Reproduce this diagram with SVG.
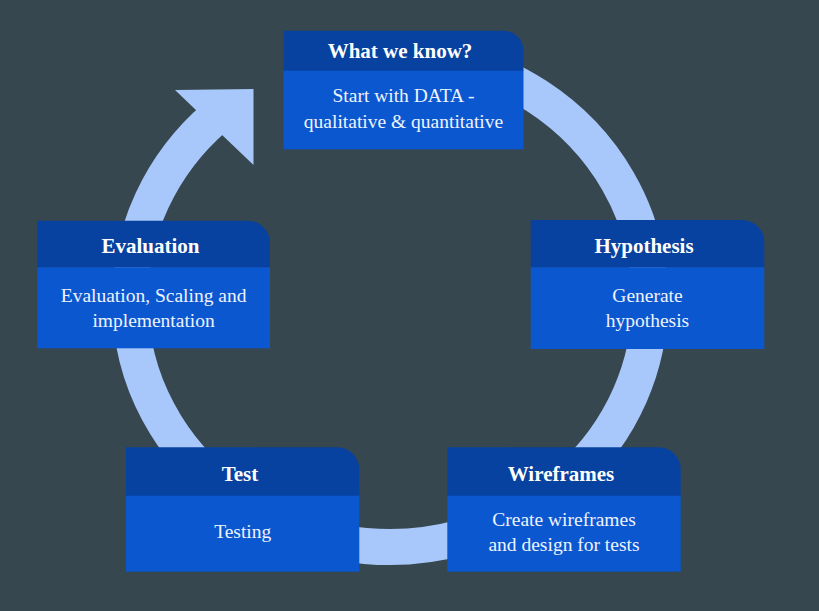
<svg xmlns="http://www.w3.org/2000/svg" width="819" height="611" viewBox="0 0 819 611">
  <style>
    .hdr { fill: #0842a0; }
    .body { fill: #0b57d0; }
    .title { font-family: "Liberation Serif", "Times New Roman", serif; font-size: 21px; font-weight: bold; fill: #ffffff; text-anchor: middle; }
    .txt { font-family: "Liberation Serif", "Times New Roman", serif; font-size: 19.5px; fill: #eef3fd; text-anchor: middle; }
    .ring { fill: none; stroke: #a8c7fa; stroke-width: 36; }
  </style>

  <rect x="0" y="0" width="819" height="611" fill="#37474f"/>

  <!-- cycle ring with arrowhead -->
  <g id="connectors">
    <path class="ring" d="M 435.15 56.75 A 260 247 0 1 1 216.03 116.45"/>
    <polygon points="175,90 253.5,89 253.5,165" fill="#a8c7fa"/>
  </g>

  <g id="node-know">
    <path class="hdr" d="M 283.5 30.7 H 503.5 A 20 20 0 0 1 523.5 50.7 V 71 H 283.5 Z"/>
    <rect class="body" x="283.5" y="70.7" width="240" height="78.6"/>
    <text class="title" x="400" y="58">What we know?</text>
    <text class="txt" x="403.5" y="102">Start with DATA -</text>
    <text class="txt" x="403.5" y="128">qualitative &amp; quantitative</text>
  </g>

  <g id="node-hypothesis">
    <path class="hdr" d="M 530.7 220 H 742.3 A 22 22 0 0 1 764.3 242 V 267.6 H 530.7 Z"/>
    <rect class="body" x="530.7" y="267.3" width="233.6" height="81.7"/>
    <text class="title" x="644" y="253.3">Hypothesis</text>
    <text class="txt" x="647.5" y="301.7">Generate</text>
    <text class="txt" x="647.5" y="327">hypothesis</text>
  </g>

  <g id="node-wireframes">
    <path class="hdr" d="M 447.3 447.3 H 658.7 A 22 22 0 0 1 680.7 469.3 V 496 H 447.3 Z"/>
    <rect class="body" x="447.3" y="495.7" width="233.4" height="76"/>
    <text class="title" x="561" y="480.7">Wireframes</text>
    <text class="txt" x="564" y="526">Create wireframes</text>
    <text class="txt" x="564" y="551">and design for tests</text>
  </g>

  <g id="node-test">
    <path class="hdr" d="M 126 447.3 H 337.3 A 22 22 0 0 1 359.3 469.3 V 496 H 126 Z"/>
    <rect class="body" x="126" y="495.7" width="233.3" height="76"/>
    <text class="title" x="240" y="480.7">Test</text>
    <text class="txt" x="242.7" y="538.3">Testing</text>
  </g>

  <g id="node-evaluation">
    <path class="hdr" d="M 37.3 220.7 H 248 A 22 22 0 0 1 270 242.7 V 267.6 H 37.3 Z"/>
    <rect class="body" x="37.3" y="267.3" width="232.7" height="81"/>
    <text class="title" x="150.5" y="253.3">Evaluation</text>
    <text class="txt" x="153.6" y="301.7">Evaluation, Scaling and</text>
    <text class="txt" x="153.6" y="327.3">implementation</text>
  </g>
</svg>
